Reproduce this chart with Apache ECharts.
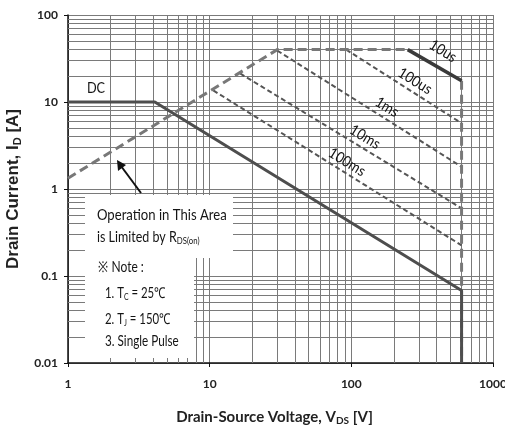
<!DOCTYPE html>
<html>
<head>
<meta charset="utf-8">
<script src="https://cdn.jsdelivr.net/npm/echarts@6/dist/echarts.min.js"></script>
<style>html,body{margin:0;padding:0;background:#fff}#c{width:505px;height:427px}</style>
</head>
<body>
<div id="c"></div>
<script>
// ---- data ----
const xTicks = [1, 10, 100, 1000];
const yTicks = [0.01, 0.1, 1, 10, 100];
const minorMult = [2, 3, 4, 5, 6, 7, 8, 9];

const dcV = [1, 4.1, 600, 600];
const dcI = [10, 10, 0.068, 0.01];

const rdsV = [1, 30, 250];          // RDS(on) limit + 40 A plateau
const rdsI = [1.33, 40, 40];

const us10V = [250, 600];
const us10I = [40, 17.5];

const bvV = [600, 600];             // breakdown-voltage limit
const bvI = [17.5, 0.01];

const us100V = [92, 600];
const us100I = [40, 5.7];

const ms1V = [30, 600];
const ms1I = [39, 1.8];

const ms10V = [16.4, 600];
const ms10I = [21.3, 0.6];

const ms100V = [10.6, 600];
const ms100I = [13.6, 0.225];

// ---- helpers ----
const zip = (a, b) => a.map((v, i) => [v, b[i]]);
const FONT = "Lato,'Open Sans',sans-serif";
const AFONT = "'Liberation Sans',Arial,sans-serif";

const xMinor = [];
xTicks.slice(0, -1).forEach(d => minorMult.forEach(m => xMinor.push(+(d * m).toPrecision(6))));
const yMinor = [];
yTicks.slice(0, -1).forEach(d => minorMult.forEach(m => yMinor.push(+(d * m).toPrecision(6))));

const gridColor = '#7a7a7a';

const chart = echarts.init(document.getElementById('c'));

function lineSeries(v, i, style, z) {
  return {
    type: 'line', data: zip(v, i), symbol: 'none', silent: true, animation: false,
    lineStyle: style, z: z || 5
  };
}

const thickDash = { color: '#787878', width: 3, type: [9, 5] };
const thinDash = { color: '#555', width: 2, type: [5, 3] };

function noteText(x, y, main, sub, tail, size, sx) {
  const rich = {
    m: { fontFamily: FONT, fontSize: size, fill: '#151515', lineHeight: 18 },
    s: { fontFamily: FONT, fontSize: Math.round(size * 0.62), fill: '#151515', lineHeight: 8, verticalAlign: 'bottom' }
  };
  let t = '{m|' + main + '}';
  if (sub) t += '{s|' + sub + '}';
  if (tail) t += '{m|' + tail + '}';
  return { type: 'text', z: 101, x: x, y: y, scaleX: sx, style: { text: t, rich: rich, verticalAlign: 'middle' } };
}

function curveLabel(x, y, txt) {
  return { type: 'text', z: 101, x: x, y: y, rotation: -0.55, scaleX: 0.9,
    style: { text: txt, font: '15px ' + FONT, fill: '#151515', align: 'center', verticalAlign: 'middle' } };
}

const option = {
  animation: false,
  grid: { left: 68, right: 12, top: 15, bottom: 64, containLabel: false, outerBoundsMode: 'none' },
  xAxis: {
    type: 'log', logBase: 10, min: 1, max: 1000,
    axisLine: { show: true, onZero: false, lineStyle: { color: '#111', width: 1.5 } },
    axisTick: { show: true, length: 4, lineStyle: { color: '#111' } },
    axisLabel: { margin: 15, fontFamily: FONT, fontWeight: 'bold', fontSize: 12, color: '#222',
      formatter: v => String(v) },
    splitLine: { show: true, lineStyle: { color: gridColor, width: 1 } },
    name: '{m|Drain-Source Voltage, V}{s|DS}{m| [V]}',
    nameLocation: 'middle', nameGap: 45,
    nameTextStyle: {
      padding: [0, 12, 0, 0],
      rich: {
        m: { fontFamily: FONT, fontSize: 15, fontWeight: 'bold', color: '#222', lineHeight: 18 },
        s: { fontFamily: FONT, fontSize: 10, fontWeight: 'bold', color: '#222', lineHeight: 8, verticalAlign: 'bottom' }
      }
    }
  },
  yAxis: {
    type: 'log', logBase: 10, min: 0.01, max: 100,
    axisLine: { show: true, onZero: false, lineStyle: { color: '#111', width: 1.5 } },
    axisTick: { show: true, length: 4, lineStyle: { color: '#111' } },
    axisLabel: { margin: 10, fontFamily: FONT, fontWeight: 'bold', fontSize: 12, color: '#222',
      formatter: v => String(+v.toPrecision(3)) },
    splitLine: { show: true, lineStyle: { color: gridColor, width: 1 } },
    name: '{m|Drain Current, I}{s|D}{m| [A]}',
    nameLocation: 'middle', nameGap: 41, nameRotate: 90,
    nameTextStyle: {
      rich: {
        m: { fontFamily: AFONT, fontSize: 17, fontWeight: 'bold', color: '#222', lineHeight: 20 },
        s: { fontFamily: AFONT, fontSize: 11, fontWeight: 'bold', color: '#222', lineHeight: 9, verticalAlign: 'bottom' }
      }
    }
  },
  series: [
    {
      type: 'line', data: [[1, 0.01]], symbol: 'none', silent: true, z: 1,
      lineStyle: { opacity: 0 },
      markLine: {
        silent: true, symbol: ['none', 'none'], label: { show: false }, animation: false,
        lineStyle: { color: gridColor, width: 1, type: 'solid' },
        emphasis: { disabled: true },
        data: xMinor.map(v => ({ xAxis: v })).concat(yMinor.map(v => ({ yAxis: v })))
      }
    },
    lineSeries(ms100V, ms100I, thinDash),
    lineSeries(ms10V, ms10I, thinDash),
    lineSeries(ms1V, ms1I, thinDash),
    lineSeries(us100V, us100I, thinDash),
    lineSeries(rdsV, rdsI, thickDash, 6),
    lineSeries(bvV, bvI, thickDash, 6),
    lineSeries(us10V, us10I, { color: '#3a3a3a', width: 3.5 }, 7),
    lineSeries(dcV, dcI, { color: '#4e4e4e', width: 3 }, 8)
  ],
  graphic: [
    { type: 'rect', z: 100, shape: { x: 85, y: 195, width: 148, height: 63 }, style: { fill: '#fff' } },
    { type: 'rect', z: 100, shape: { x: 85, y: 257, width: 109, height: 101 }, style: { fill: '#fff' } },
    noteText(97, 215, 'Operation in This Area', '', '', 16, 0.82),
    noteText(97, 237, 'is Limited by R', 'DS(on)', '', 16, 0.78),
    noteText(98, 267, '※ Note :', '', '', 15, 0.8),
    noteText(105, 293, '1. T', 'C', ' = 25℃', 15, 0.76),
    noteText(105, 319, '2. T', 'J', ' = 150℃', 15, 0.76),
    noteText(105, 341, '3. Single Pulse', '', '', 15, 0.78),
    // arrow
    { type: 'line', z: 101, shape: { x1: 141, y1: 193, x2: 121, y2: 166 }, style: { stroke: '#111', lineWidth: 2 } },
    { type: 'polygon', z: 101, shape: { points: [[117, 160], [118, 171], [126, 165]] }, style: { fill: '#111' } },
    // curve labels
    { type: 'text', z: 101, x: 96, y: 88, scaleX: 0.85, style: { text: 'DC', font: '15px ' + FONT, fill: '#151515', align: 'center', verticalAlign: 'middle' } },
    curveLabel(443, 51, '10us'),
    curveLabel(415, 81, '100us'),
    curveLabel(387, 107, '1ms'),
    curveLabel(365, 137, '10ms'),
    curveLabel(347, 162, '100ms')
  ]
};
chart.setOption(option);
</script>
</body>
</html>
